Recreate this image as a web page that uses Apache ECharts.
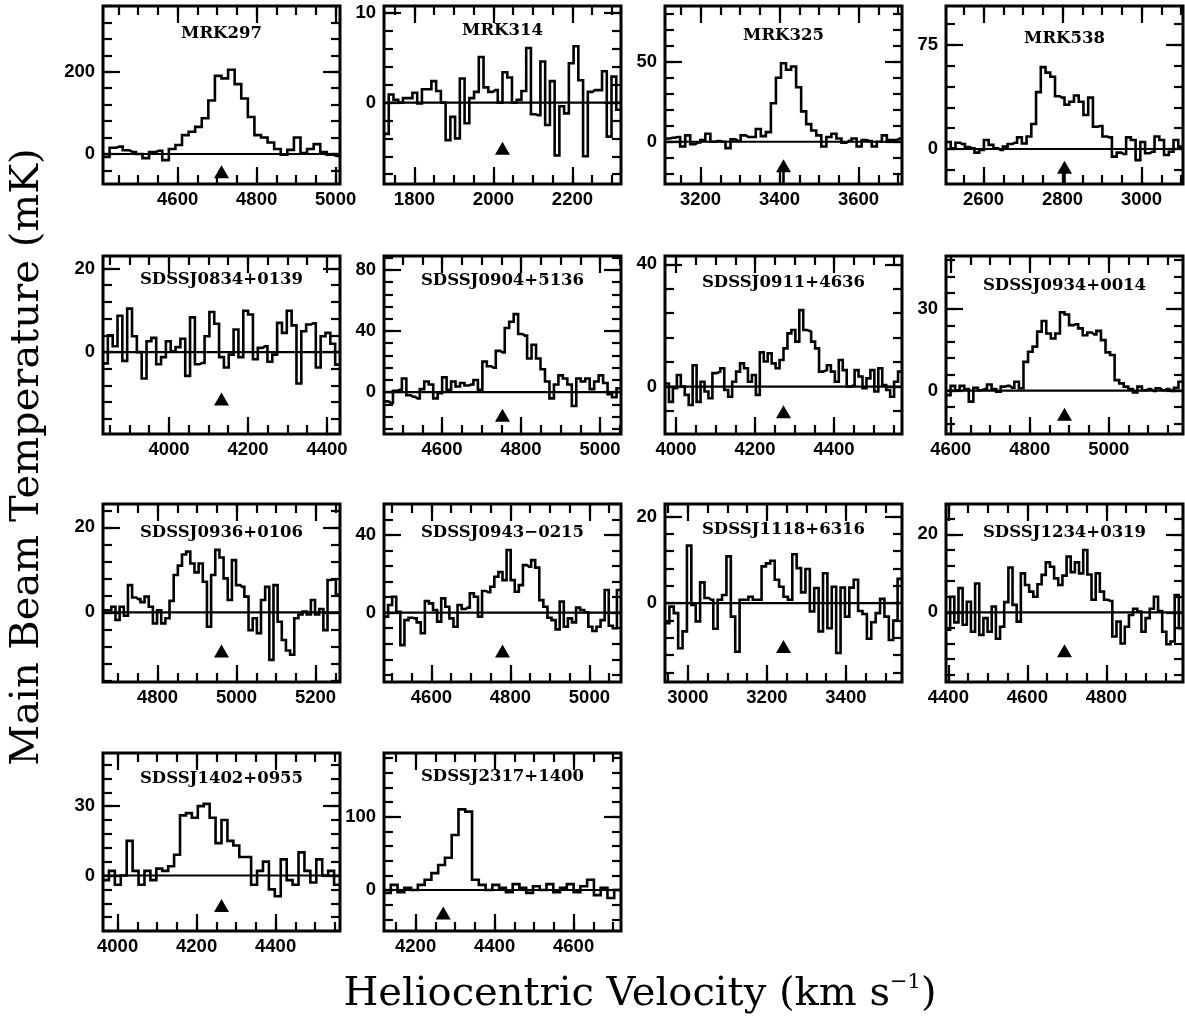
<!DOCTYPE html>
<html>
<head>
<meta charset="utf-8">
<title>HI spectra</title>
<script src="https://cdn.jsdelivr.net/npm/echarts@6.0.0/dist/echarts.min.js"></script>
<style>
  html, body { margin: 0; padding: 0; background: #fff; }
  #chart { width: 1185px; height: 1019px; }
</style>
</head>
<body>
<div id="chart"></div>
<script>
// panel names and velocity windows (km/s)
const names = ['MRK297', 'MRK314', 'MRK325', 'MRK538',
  'SDSSJ0834+0139', 'SDSSJ0904+5136', 'SDSSJ0911+4636', 'SDSSJ0934+0014',
  'SDSSJ0936+0106', 'SDSSJ0943\u22120215', 'SDSSJ1118+6316', 'SDSSJ1234+0319',
  'SDSSJ1402+0955', 'SDSSJ2317+1400'];
const vsys = [4711, 2023, 3410, 2805, 4133, 4753, 4272, 4888, 4962, 4780, 3242, 4694, 4263, 4270];
const vlo  = [4411, 1723, 3110, 2505, 3833, 4453, 3972, 4588, 4662, 4480, 2942, 4394, 3963, 4120];
const vspan = 600;

// y ranges (mK), tick steps and triangle height
const yMin   = [-73, -9.1, -26.4, -25.2, -19.6, -27.3, -15.5, -15.9, -16.4, -35.7, -18.2, -17.9, -24, -56];
const yMax   = [360, 10.8, 84.8, 103, 23, 89, 42.7, 49.5, 25.5, 56, 22.9, 27.8, 53, 187];
const yMajor = [200, 10, 50, 75, 20, 40, 40, 30, 20, 40, 20, 20, 30, 100];
const yMinor = [40, 2, 10, 15, 4, 8, 8, 6, 4, 8, 4, 4, 6, 20];
const triY   = [-43, -5.1, -15, -13.2, -11.2, -15, -8.2, -8.6, -9.1, -19.7, -10, -9.9, -13, -31.5];
const stemPanels = [2, 3];

// spectra, channel values (mK) from left to right edge of each window
const mrk297 = [-7, 15, 18, 9, 5, 0, -10, 5, 8, -15, 12, 22, 46, 54, 66, 87, 130, 190, 184, 205,
  170, 135, 90, 46, 40, 28, 12, -2, 10, 40, 2, 12, 24, 5, -2, -5];
const mrk314 = [-3.5, 0.9, 0.3, 0, 0.5, 0.5, 1.1, -0.1, 1.5, 1.5, 2.4, 1.3, 0, -4.2, -1.6, -4.0, 2.7,
  -2.3, 0.5, 1.2, 5.1, 1.7, 1.2, 1.4, 0, 3.4, 2.8, 0, 0.3, 1.3, 6.1, -1.3, -1.4, 4.6, -2.5, 2.4,
  -5.9, -0.4, -1.2, 4.4, 6.3, 2.5, -6, 1.2, 1.4, 1.4, 3.5, -3.8, 2.9, -0.8];
const mrk325 = [2, 2.5, 3, -3, 4, -1.5, -0.5, 1, 5, 0, 0.5, 0, -4, 1.5, 0.5, 4, 3, 3, 8, 3.5, 6, 24,
  40, 49, 45, 47, 34, 19, 11, 7, 4, -3, 3, 5, 2, -0.6, 0.6, 2, -3, 1, 0.5, -3, 0, 4, 1, 1, 2];
const mrk538 = [5, 0.5, 4.5, 3.5, 1.5, 0.5, -2.6, -0.7, 6.5, 3, 0.5, -0.7, 1.7, 3.6, 4.5, 8.4, 4, 9,
  18, 41, 59, 55, 52, 38, 37, 32, 34, 38.5, 34, 24.5, 37, 16, 16.6, 9, 8.4, -5.5, -2.6, -3.6, 8.4,
  6.5, -8, 5, -3, -2, 9, 6.5, -4.3, -2, 6.5, 1.7];
const j0834 = [-2.7, 4, 1.4, 8.7, -2.1, 10.4, 3.8, 0, -6.3, 2.6, 3.4, -2.9, -1.2, 2.6, 0.2, 1.2, 3.2,
  -5.7, 8.3, -2.9, -2.6, 3.8, 9.6, 6.8, -1.2, -3.7, -0.6, 5.4, -1.2, 9.9, 9, -1.7, 1, 1.4, -2.3,
  -0.6, 7, 4.6, 9.9, 6.4, -7.5, 5, 6.6, 6.9, -3.7, 3.8, 4.6, 2, -3];
const j0904 = [-6, -7, 1, 1.5, 9, -2, -3, -4, 2, 7, 5, -4, -0.7, 9.7, 1.5, 7, 3.7, 6, 4.4, 5, 8, 1.5,
  20, 17, 16, 27, 26, 42, 46, 51, 38, 37, 22, 31, 22, 15, 7, -4, 5, 11, 9, 5, -9, 9, 7, 9, 2, 7, 11,
  6, -1.3, -3.3, 2.6];
const j0911 = [1, -5, -0.5, 3.8, 0, -2.7, -6, 7, -5, 1.6, -1.6, -3.8, 4.4, 4.9, 6, -1.1, -3.3, 1.6,
  4.9, 7.6, 6, 1.6, 3.8, -2.7, 11.2, 8.2, 10.9, 7.6, 6, 8.7, 12.5, 17.4, 18.5, 14.7, 25, 18.5, 18,
  14.7, 12.5, 4.9, 5.4, 7, 4.9, 1.6, 8.7, 5.4, 0, 0.5, 5.4, 3.3, -0.5, 2.7, 5.4, -1.6, 6, 0.5,
  -1.1, -3.3, 1.6, 4.9];
const j0934 = [-1.6, 1.8, 0.2, 1.8, 0.6, -4, 1.1, 0.2, 0.6, 2.3, 0.6, -0.4, 1.5, 1.8, 1.1, 3.3, 0.9,
  10.6, 14.3, 16.2, 21.7, 25.6, 21, 19.2, 21, 28.8, 28, 24.1, 24.4, 22.9, 20.4, 21.4, 20.7, 22,
  18.6, 14.1, 13.1, 3.9, 2.7, 1.5, 0.6, -0.6, 1.5, 0.2, 0.6, -0.1, 0.9, 0.2, 0.6, -0.1, 1.1, 3.3];
const j0936 = [0.5, 0.5, 1.3, -1.8, 1.3, -0.8, 6.4, 3.5, 3.1, 2.4, 3.7, 1.3, -2.6, 0.5, -2.6, -1.4,
  2.7, 8.8, 11, 13.6, 14.3, 11.5, 9.4, 11.5, 7.2, -3.4, 8.8, 14.7, 12.9, 8, 2.9, 12.3, 6.4, 6, 3.7,
  -4.2, -1.4, -4.9, 2.9, 6, -11.2, 6.4, -2.2, -6.5, -9, -10, -1.4, -0.5, 0.2, -0.5, 2.9, -0.5, 0.8,
  -4.2, 7.6, 7.8, 4.2];
const j0943 = [-2, 4, 8.2, 0.5, -16.7, -3.8, -2.6, -2.9, -5, -10.6, 6, 4.8, 1.4, -4.6, 7.4, 3.1, -2.9,
  -7.2, 4, 1.9, 2.6, 10, 8.2, -2, 11.2, 10.5, 13.4, 18.5, 21, 16.8, 32.3, 16.8, 10.8, 14.2, 24.5,
  23.7, 27.1, 23.2, 6.5, 3.1, -2.6, -3.8, -8.6, 5.7, -7.2, -2.9, -5, 2.6, 1.4, 0.2, -7.2, -9.4,
  -7.2, -3.8, 11.7, -6.7, -8, 11.7];
const j1118 = [-4.6, -0.8, -2.3, -10.4, -6.5, 13.3, -0.4, -4.2, 4.8, 1.2, 0.8, -5.9, 0.8, 1.9, 10.8,
  -3.1, -11.2, 0.8, 0.8, 1.5, 0.8, 0.8, 8.5, 9.2, 9.8, 5.4, 3.8, 1.5, 0.8, 11.3, 8.1, 2.5, 7.9,
  -1.9, 3.5, -6.5, 6.9, -5.8, 3.8, -11.5, 3.6, -3.1, 3.6, 5.4, -1.8, -2.5, -8.2, -4.4, -2.3, 1,
  -3.1, -8.5, -4, 5.6];
const j1234 = [-4.5, 4, -2.6, 6.2, -3.2, 2.7, -5, 7.4, -5.8, -1.5, -5, 1.5, -6.8, -3.7, 2.6, 11.5, 1.9,
  -2.4, 10, 7, 5.3, 4, 7.2, 9.6, 12.8, 11.7, 8.7, 7, 9.4, 14.3, 10.3, 12.8, 10, 16, 9.7, 3.2, 10,
  5.3, 3.2, 2.9, -6.2, -2.4, -8, -3.7, -0.7, 0.9, 0.2, -5, -1.5, 0.9, 4, 0.3, -5, -8.2, -7.5, 4.4, -4.1];
const j1402 = [-2, 2, -4, 0, 15, 2, -4, 2, -2, 3, 2, 4, 9, 26, 27, 25, 30, 31, 25, 14, 24, 15, 13, 8, 8,
  -4, 2, 6, -6, -9, 7, -2, -4, 10, 2, -3, 7, 0, 2, -4];
const j2317 = [-4, 7, -3, 3, 0, 7, 14, 23, 34, 44, 75, 110, 107, 14, 7, 0, 7, 3, -3, 8, 3, -4, 5, 0, 8,
  -3, 3, 8, -3, 5, 14, -7, 3, -11, 0];

const spectra = [mrk297, mrk314, mrk325, mrk538, j0834, j0904, j0911, j0934,
  j0936, j0943, j1118, j1234, j1402, j2317];

// layout
const colLeft = [103, 384, 665, 946];
const rowTop = [6, 256, 504, 753];
const panelW = 237, panelH = 178;
const titleDy = [28, 25, 30, 33, 23.5, 25, 26.5, 30, 28.5, 28.5, 26, 28.5, 26, 24];
const tickFont = 'Liberation Sans';

function multiples(lo, hi, step) {
  const out = [];
  for (let k = Math.ceil(lo / step - 1e-9); k * step <= hi + 1e-9; k++) out.push(+(k * step).toFixed(6));
  return out;
}

function makeAxis(gi, lo, hi, vals, len, pos, withLabels) {
  return {
    type: 'value', gridIndex: gi, min: lo, max: hi, position: pos,
    axisLine: { show: false, onZero: false },
    splitLine: { show: false },
    axisTick: { show: true, inside: true, length: len, customValues: vals,
      lineStyle: { color: '#000', width: 2.2 } },
    axisLabel: withLabels ? {
      show: true, customValues: vals, margin: (pos === 'left' ? 8 : 6), color: '#000',
      fontFamily: tickFont, fontWeight: 'bold', fontSize: 18.5,
      formatter: function (v) { return String(v); }
    } : { show: false }
  };
}

const grids = [], xAxes = [], yAxes = [], series = [], graphics = [];

spectra.forEach(function (vals, i) {
  const col = i % 4, row = Math.floor(i / 4);
  const left = colLeft[col], top = rowTop[row];
  grids.push({
    left: left, top: top, width: panelW, height: panelH,
    show: true, borderColor: '#000', borderWidth: 3, backgroundColor: 'transparent',
    outerBoundsMode: 'none', containLabel: false
  });
  const lo = vlo[i], hi = vlo[i] + vspan;
  const xMaj = multiples(lo, hi, 200), xMin = multiples(lo, hi, 50);
  const yMaj = multiples(yMin[i], yMax[i], yMajor[i]), yMi = multiples(yMin[i], yMax[i], yMinor[i]);
  const base = xAxes.length;
  xAxes.push(makeAxis(i, lo, hi, xMaj, 17, 'bottom', true));
  xAxes.push(makeAxis(i, lo, hi, xMin, 9, 'bottom', false));
  xAxes.push(makeAxis(i, lo, hi, xMaj, 17, 'top', false));
  xAxes.push(makeAxis(i, lo, hi, xMin, 9, 'top', false));
  yAxes.push(makeAxis(i, yMin[i], yMax[i], yMaj, 17, 'left', true));
  yAxes.push(makeAxis(i, yMin[i], yMax[i], yMi, 9, 'left', false));
  yAxes.push(makeAxis(i, yMin[i], yMax[i], yMaj, 17, 'right', false));
  yAxes.push(makeAxis(i, yMin[i], yMax[i], yMi, 9, 'right', false));

  // zero line
  series.push({
    type: 'line', xAxisIndex: base, yAxisIndex: base, silent: true, symbol: 'none', z: 2,
    data: [[lo, 0], [hi, 0]], lineStyle: { color: '#000', width: 2.2 }
  });
  // spectrum (histogram steps)
  const dv = vspan / vals.length;
  const pts = [[lo, vals[0]]];
  vals.forEach(function (t, k) { pts.push([lo + (k + 0.5) * dv, t]); });
  pts.push([hi, vals[vals.length - 1]]);
  series.push({
    type: 'line', step: 'middle', xAxisIndex: base, yAxisIndex: base, symbol: 'none', z: 3,
    data: pts, lineStyle: { color: '#000', width: 2.6, join: 'miter' }
  });
  // systemic velocity marker
  if (stemPanels.indexOf(i) >= 0) {
    series.push({
      type: 'line', xAxisIndex: base, yAxisIndex: base, symbol: 'none', z: 3,
      data: [[vsys[i], yMin[i]], [vsys[i], triY[i]]], lineStyle: { color: '#000', width: 2.6 }
    });
  }
  series.push({
    type: 'scatter', xAxisIndex: base, yAxisIndex: base, symbol: 'triangle', symbolSize: [15, 13],
    z: 4, data: [[vsys[i], triY[i]]], itemStyle: { color: '#000', opacity: 1 }
  });
  // panel title
  graphics.push({
    type: 'text', x: left + panelW / 2, y: top + titleDy[i],
    style: { text: names[i], font: 'bold 16.5px "DejaVu Serif"', fill: '#000',
      textAlign: 'center', align: 'center', textVerticalAlign: 'middle', verticalAlign: 'middle' }
  });
});

graphics.push({
  type: 'text', x: 28, y: 457, rotation: Math.PI / 2,
  style: { text: 'Main Beam Temperature (mK)', font: '40px "DejaVu Serif"', fill: '#000',
    textAlign: 'center', align: 'center', textVerticalAlign: 'middle', verticalAlign: 'middle' }
});
graphics.push({
  type: 'text', x: 640, y: 995,
  style: {
    text: '{a|Heliocentric Velocity (km s}{b|\u22121}{a|)}',
    fill: '#000', textAlign: 'center', align: 'center',
    textVerticalAlign: 'middle', verticalAlign: 'middle',
    rich: {
      a: { fontFamily: 'DejaVu Serif', fontSize: 40, color: '#000' },
      b: { fontFamily: 'DejaVu Serif', fontSize: 21, color: '#000', padding: [0, 0, 24, 0] }
    }
  }
});

const chart = echarts.init(document.getElementById('chart'), null, { renderer: 'canvas' });
chart.setOption({
  backgroundColor: '#fff',
  animation: false,
  grid: grids,
  xAxis: xAxes,
  yAxis: yAxes,
  series: series,
  graphic: graphics
});
</script>
</body>
</html>
